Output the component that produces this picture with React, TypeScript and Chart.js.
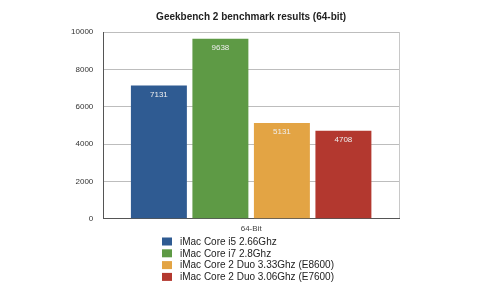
import React, { useEffect, useRef } from "react";
import { Chart, registerables } from "chart.js";

Chart.register(...registerables);

const categories = ["64-Bit"];
const seriesNames = [
  "iMac Core i5 2.66Ghz",
  "iMac Core i7 2.8Ghz",
  "iMac Core 2 Duo 3.33Ghz (E8600)",
  "iMac Core 2 Duo 3.06Ghz (E7600)",
];
const seriesValues = [7131, 9638, 5131, 4708];
const seriesColors = ["#2f5b92", "#5e9a45", "#e3a444", "#b3382f"];
const yTicks = [0, 2000, 4000, 6000, 8000, 10000];
const titleText = "Geekbench 2 benchmark results (64-bit)";

const FONT = "'Liberation Sans', Arial, Helvetica, sans-serif";

const valueLabels = {
  id: "valueLabels",
  afterDatasetsDraw(chart: any) {
    const ctx = chart.ctx;
    ctx.save();
    ctx.font = `8px ${FONT}`;
    ctx.fillStyle = "#eeeeee";
    ctx.textAlign = "center";
    ctx.textBaseline = "middle";
    chart.data.datasets.forEach((ds: any, i: number) => {
      const meta = chart.getDatasetMeta(i);
      meta.data.forEach((bar: any, j: number) => {
        ctx.fillText(String(ds.data[j]), bar.x, bar.y + 9);
      });
    });
    ctx.restore();
  },
};

const centeredTitle = {
  id: "centeredTitle",
  afterDraw(chart: any) {
    const ctx = chart.ctx;
    const area = chart.chartArea;
    ctx.save();
    ctx.font = `bold 10px ${FONT}`;
    ctx.fillStyle = "#222222";
    ctx.textAlign = "center";
    ctx.textBaseline = "middle";
    ctx.fillText(titleText, (area.left + area.right) / 2, 17);
    ctx.restore();
  },
};

const listLegend = {
  id: "listLegend",
  afterDraw(chart: any) {
    const ctx = chart.ctx;
    ctx.save();
    ctx.font = `10px ${FONT}`;
    ctx.textAlign = "left";
    ctx.textBaseline = "middle";
    chart.data.datasets.forEach((ds: any, i: number) => {
      const cy = 241.5 + i * 11.8;
      ctx.fillStyle = ds.backgroundColor;
      ctx.fillRect(162, cy - 4, 10, 8);
      ctx.fillStyle = "#222222";
      ctx.fillText(ds.label, 180, cy + 0.5);
    });
    ctx.restore();
  },
};

export default function App() {
  const ref = useRef<HTMLCanvasElement>(null);
  useEffect(() => {
    if (!ref.current) return;
    const chart = new Chart(ref.current, {
      type: "bar",
      data: {
        labels: categories,
        datasets: seriesNames.map((name, i) => ({
          label: name,
          data: [seriesValues[i]],
          backgroundColor: seriesColors[i],
          borderWidth: 0,
          categoryPercentage: 0.832,
          barPercentage: 0.91,
        })),
      },
      options: {
        animation: false,
        responsive: false,
        maintainAspectRatio: false,
        layout: { padding: { left: 0, right: 81, top: 32, bottom: 49.3 } },
        plugins: {
          legend: { display: false },
          tooltip: { enabled: false },
          title: { display: false },
        },
        scales: {
          x: {
            offset: true,
            grid: { display: true, color: "#c8c8c8", drawTicks: false, offset: true },
            border: { display: true, color: "#555555", width: 1 },
            ticks: {
              color: "#444444",
              font: { family: FONT, size: 8 },
              padding: 5.5,
            },
            afterFit(scale: any) {
              scale.height = 20;
            },
          },
          y: {
            min: 0,
            max: 10000,
            afterBuildTicks(scale: any) {
              scale.ticks = yTicks.map((v) => ({ value: v }));
            },
            grid: { color: "#bdbdbd", drawTicks: false },
            border: { display: true, color: "#555555", width: 1 },
            ticks: {
              color: "#333333",
              font: { family: FONT, size: 8 },
              padding: 10,
              callback: (v: any) => String(v),
            },
            afterFit(scale: any) {
              scale.width = 103.3;
            },
          },
        },
      },
      plugins: [valueLabels, centeredTitle, listLegend],
    });
    return () => chart.destroy();
  }, []);
  return (
    <div style={{ position: "fixed", left: 0, top: 0, width: 480, height: 288, background: "#fff" }}>
      <canvas ref={ref} width={480} height={288} style={{ width: 480, height: 288 }} />
    </div>
  );
}
